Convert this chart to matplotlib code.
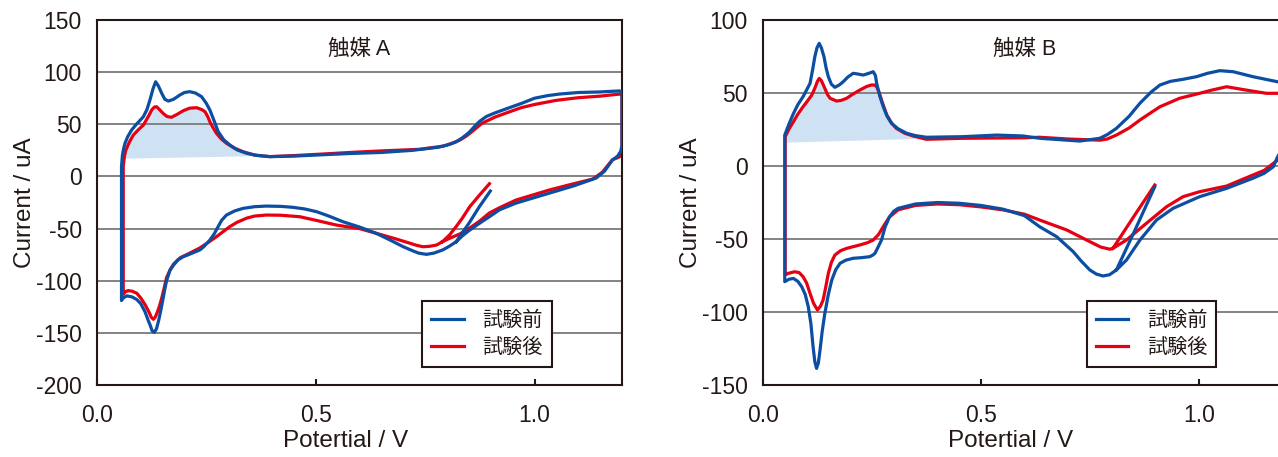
import numpy as np
import matplotlib.pyplot as plt

# ---- data: cyclic voltammograms (Potential V, Current uA) ----
# each curve = cathodic part (tail + sweep to 0.05 V), anodic part, return part

# 触媒 A, 試験前
a_pre_cat_v = [0.899, 0.874, 0.85, 0.835, 0.821, 0.805, 0.79, 0.77, 0.753, 0.735, 0.72, 0.70, 0.67,
               0.638, 0.6, 0.562, 0.53, 0.502, 0.475, 0.448, 0.42, 0.387, 0.36, 0.334, 0.315, 0.296,
               0.285, 0.277, 0.268, 0.258, 0.245, 0.235, 0.215, 0.197, 0.185, 0.175, 0.167, 0.159,
               0.155, 0.152, 0.146, 0.141, 0.136, 0.131, 0.126, 0.121, 0.117, 0.11, 0.1, 0.091, 0.08,
               0.068, 0.06, 0.056]
a_pre_cat_i = [-14, -29, -45, -54, -62.6, -67, -70.5, -73.5, -74.7, -73.5, -71, -67.4, -61,
               -54.5, -48.5, -43.4, -38, -33.8, -31.2, -29.6, -28.7, -28.4, -29, -30.6, -33, -37,
               -42, -48, -55, -61, -67, -70.5, -74, -77, -80, -85, -89.7, -100,
               -108, -115, -128, -138, -146, -149.5, -148, -142, -138, -130, -122, -118, -115.5,
               -114.5, -116.5, -119]
a_pre_an_v = [0.056, 0.058, 0.061, 0.064, 0.07, 0.079, 0.09, 0.1, 0.106, 0.114, 0.121, 0.128, 0.134,
              0.14, 0.148, 0.155, 0.163, 0.175, 0.189, 0.2, 0.212, 0.225, 0.239, 0.25, 0.258, 0.268,
              0.277, 0.29, 0.304, 0.32, 0.342, 0.365, 0.395, 0.45, 0.5, 0.578, 0.65, 0.72, 0.78, 0.8,
              0.82, 0.835, 0.85, 0.863, 0.875, 0.89, 0.91, 0.943, 0.97, 1.0, 1.03, 1.057, 1.1, 1.148,
              1.194, 1.2]
a_pre_an_i = [9, 20, 27, 31.8, 38, 44.5, 50, 54.5, 57.3, 64, 73.3, 84, 90.8,
              87, 79.7, 74, 72.3, 74, 78, 80.5, 81.3, 80, 76.5, 70, 63.7, 53,
              43, 35, 30, 25.5, 22.2, 20.2, 19, 19.5, 20.5, 22, 23, 25, 28, 30,
              33, 37, 42, 48, 53, 57.5, 61, 66, 70, 75, 77.5, 79, 80.5, 81,
              82, 81]
a_pre_ret_v = [1.2, 1.197, 1.19, 1.178, 1.16, 1.141, 1.09, 1.034, 0.958, 0.92, 0.897, 0.874, 0.85,
               0.835, 0.821]
a_pre_ret_i = [30, 24, 19.5, 15.7, 5, -1.5, -9, -16, -25.5, -32, -38.6, -45, -52,
               -57, -62.6]

# 触媒 A, 試験後
a_post_cat_v = [0.897, 0.874, 0.852, 0.835, 0.821, 0.806, 0.79, 0.776, 0.76, 0.745, 0.73, 0.715, 0.68,
                0.638, 0.6, 0.547, 0.5, 0.463, 0.42, 0.387, 0.36, 0.342, 0.32, 0.304, 0.288, 0.273,
                0.255, 0.235, 0.212, 0.19, 0.175, 0.167, 0.159, 0.153, 0.148, 0.143, 0.138, 0.133,
                0.129, 0.124, 0.12, 0.11, 0.1, 0.091, 0.08, 0.071, 0.065, 0.06]
a_post_cat_i = [-7, -18, -29, -40, -48, -56, -62.5, -65.8, -67, -67.4, -66, -64, -59.5,
                -54.5, -50, -46.6, -42, -38.6, -37.2, -37, -38, -40, -44, -48, -53, -57.8,
                -63, -68.6, -73.5, -78, -84, -89.7, -97, -108, -116.6, -124, -130, -135,
                -137, -135, -131, -123, -116.5, -112, -110, -109.5, -110.5, -113]
a_post_an_v = [0.06, 0.063, 0.066, 0.074, 0.083, 0.095, 0.106, 0.118, 0.125, 0.131, 0.136, 0.142, 0.151,
               0.16, 0.17, 0.183, 0.197, 0.212, 0.228, 0.24, 0.247, 0.253, 0.258, 0.265, 0.273,
               0.284, 0.296, 0.315, 0.334, 0.36, 0.395, 0.45, 0.516, 0.578, 0.65, 0.737, 0.79, 0.81,
               0.83, 0.845, 0.86, 0.88, 0.91, 0.943, 0.97, 1.0, 1.05, 1.1, 1.15, 1.195, 1.2]
a_post_an_i = [10, 20, 25.3, 33, 39.7, 45, 49.3, 58, 63.7, 66.5, 66.9, 64.5, 60.5,
               57.5, 56.7, 59.5, 63, 65.5, 65.9, 64, 62, 57.5, 52.5, 47, 41.4,
               36, 31.8, 27, 23.7, 20.5, 19, 20, 21.5, 23, 24.5, 26, 29, 31.5,
               35, 39, 44, 51, 57, 62, 66, 69, 73, 75.5, 77, 79, 78]
a_post_ret_v = [1.2, 1.197, 1.19, 1.178, 1.155, 1.133, 1.08, 1.034, 0.958, 0.92, 0.897, 0.874, 0.85,
                0.83, 0.806, 0.79]
a_post_ret_i = [22, 19.5, 18, 16, 4, -2.5, -8, -13, -22.6, -30, -35, -43, -50,
                -55, -59.3, -62.5]

# 触媒 B, 試験前
b_pre_cat_v = [0.899, 0.855, 0.811, 0.795, 0.78, 0.765, 0.75, 0.73, 0.712, 0.674, 0.635, 0.6, 0.55, 0.5,
               0.45, 0.4, 0.35, 0.31, 0.3, 0.29, 0.28, 0.272, 0.265, 0.257, 0.252, 0.245, 0.225, 0.207,
               0.19, 0.177, 0.167, 0.158, 0.15, 0.142, 0.136, 0.131, 0.127, 0.123, 0.119, 0.115, 0.11,
               0.104, 0.097, 0.089, 0.08, 0.07, 0.06, 0.05]
b_pre_cat_i = [-14.2, -43, -71.2, -74.5, -75.3, -74, -71.2, -65, -58.7, -48.4, -41.6, -34, -29.5, -27,
               -25.5, -25, -26, -29, -31, -35, -42, -50.7, -55, -59.8, -61, -62.1, -62.8, -63.2,
               -64.5, -66.6, -71, -78, -88, -100.9, -113, -126, -135, -138.6, -134, -123.8, -108,
               -96.4, -88, -82.7, -79, -77, -77.5, -79.2]
b_pre_an_v = [0.05, 0.06, 0.07, 0.08, 0.092, 0.1, 0.108, 0.114, 0.119, 0.124, 0.129, 0.134, 0.14, 0.145,
              0.15, 0.157, 0.165, 0.175, 0.184, 0.195, 0.207, 0.218, 0.23, 0.243, 0.253, 0.258, 0.261,
              0.268, 0.276, 0.285, 0.295, 0.31, 0.33, 0.35, 0.375, 0.459, 0.536, 0.596, 0.635, 0.727,
              0.773, 0.79, 0.811, 0.84, 0.865, 0.89, 0.911, 0.935, 0.964, 0.995, 1.02, 1.048, 1.079,
              1.124, 1.181, 1.2]
b_pre_an_i = [21.2, 29, 36, 42, 47.5, 52, 56.6, 66, 74.9, 81, 84, 81, 74.9, 67,
              61.2, 56, 53.9, 55.5, 57.7, 61, 63.5, 63, 62.3, 63.5, 64.6, 62, 56.6,
              48, 40.6, 34, 29.2, 25.5, 22.4, 20.8, 19.7, 20.1, 21.2, 20.6, 19, 17.1,
              19, 21.5, 25.8, 34, 43, 50.5, 55.5, 58, 59.4, 61.2, 63.5, 65.3, 64.6,
              61.2, 57.7, 56]
b_pre_ret_v = [1.2, 1.181, 1.171, 1.15, 1.124, 1.064, 1.002, 0.941, 0.903, 0.865, 0.834, 0.811]
b_pre_ret_i = [15, 6.4, -0.5, -5, -8.4, -15.3, -21, -29, -37, -50.7, -64.4, -71.2]

# 触媒 B, 試験後
b_post_cat_v = [0.899, 0.85, 0.803, 0.796, 0.775, 0.75, 0.697, 0.635, 0.6, 0.55, 0.5, 0.45, 0.4, 0.35,
                0.31, 0.29, 0.275, 0.265, 0.253, 0.24, 0.222, 0.192, 0.178, 0.165, 0.157, 0.15, 0.144,
                0.138, 0.132, 0.125, 0.116, 0.108, 0.1, 0.092, 0.083, 0.073, 0.058, 0.051]
b_post_cat_i = [-13, -35, -56.4, -57, -55.5, -51.8, -43.8, -37, -33, -30, -28, -26.5, -26, -27,
                -30, -35, -42, -47, -50.7, -52.5, -54.1, -56.4, -58, -61, -66, -73.5, -83,
                -91.8, -96, -98.6, -94, -87.2, -80, -75.8, -73, -72.4, -73.5, -74.6]
b_post_an_v = [0.051, 0.06, 0.07, 0.08, 0.092, 0.102, 0.112, 0.12, 0.125, 0.129, 0.134, 0.142, 0.148,
               0.154, 0.169, 0.18, 0.192, 0.205, 0.222, 0.238, 0.249, 0.256, 0.261, 0.267, 0.272,
               0.284, 0.295, 0.306, 0.325, 0.345, 0.375, 0.459, 0.596, 0.635, 0.7, 0.773, 0.79, 0.811,
               0.84, 0.865, 0.89, 0.911, 0.956, 1.002, 1.03, 1.064, 1.109, 1.155, 1.181, 1.2]
b_post_an_i = [20.1, 25.5, 30.4, 35.5, 40.6, 44.5, 48.6, 54, 58, 60, 58.5, 53.2, 49,
               46.4, 44.5, 45, 46.4, 49, 52, 54.5, 55.5, 55.5, 54.3, 50, 45.2,
               35, 29.5, 25.8, 22.5, 20.5, 18.3, 19, 19.3, 19.7, 18.5, 17.7, 18.5, 21.2,
               26, 31.5, 36.5, 40.6, 46.4, 49.8, 52, 54.3, 52, 49.8, 49.8, 50]
b_post_ret_v = [1.2, 1.181, 1.171, 1.15, 1.124, 1.064, 1.002, 0.964, 0.926, 0.88, 0.834, 0.803]
b_post_ret_i = [10, 4.1, 1.8, -3, -6.2, -13.7, -17.6, -21, -27.9, -39.2, -50.7, -56.4]

# shaded charge region: baseline (start, end) under the 試験後 anodic peak
a_base_v = [0.06, 0.37]
a_base_i = [17, 19.5]
b_base_v = [0.051, 0.35]
b_base_i = [16, 18.5]

titles = ['触媒 A', '触媒 B']
labels = ['試験前', '試験後']
a_yticks = [150, 100, 50, 0, -50, -100, -150, -200]
b_yticks = [100, 50, 0, -50, -100, -150]
xticks = [0.0, 0.5, 1.0]

BLUE = '#0b4ea2'
RED = '#e60012'
FILL = '#cfe2f4'
INK = '#231815'
LATIN = ['Liberation Sans', 'Noto Sans CJK JP']
CJK = ['Noto Sans CJK JP', 'DejaVu Sans']

plt.rcParams['font.family'] = LATIN
plt.rcParams['axes.unicode_minus'] = False

fig = plt.figure(figsize=(12.78, 4.57), dpi=100)
ax_a = fig.add_axes([0.0759, 0.1575, 0.4108, 0.7987])
ax_b = fig.add_axes([0.5970, 0.1575, 0.4092, 0.7987])


def curve(cat_v, cat_i, an_v, an_i, ret_v, ret_i):
    return np.concatenate([cat_v, an_v, ret_v]), np.concatenate([cat_i, an_i, ret_i])


panels = [
    (ax_a, titles[0], a_yticks,
     curve(a_pre_cat_v, a_pre_cat_i, a_pre_an_v, a_pre_an_i, a_pre_ret_v, a_pre_ret_i),
     curve(a_post_cat_v, a_post_cat_i, a_post_an_v, a_post_an_i, a_post_ret_v, a_post_ret_i),
     (a_post_an_v, a_post_an_i, a_base_v, a_base_i)),
    (ax_b, titles[1], b_yticks,
     curve(b_pre_cat_v, b_pre_cat_i, b_pre_an_v, b_pre_an_i, b_pre_ret_v, b_pre_ret_i),
     curve(b_post_cat_v, b_post_cat_i, b_post_an_v, b_post_an_i, b_post_ret_v, b_post_ret_i),
     (b_post_an_v, b_post_an_i, b_base_v, b_base_i)),
]

for ax, title, yticks, pre, post, fill in panels:
    # shaded area under the first anodic peak
    fv, fi, bv, bi = (np.asarray(x, dtype=float) for x in fill)
    m = fv <= bv[1]
    poly_v = np.concatenate([fv[m], [bv[1], bv[0]]])
    poly_i = np.concatenate([fi[m], [bi[1], bi[0]]])
    ax.fill(poly_v, poly_i, color=FILL, lw=0, zorder=0.3)

    ax.plot(pre[0], pre[1], color=BLUE, lw=2.3, label=labels[0], zorder=3,
            solid_joinstyle='round')
    ax.plot(post[0], post[1], color=RED, lw=2.3, label=labels[1], zorder=2,
            solid_joinstyle='round')

    ax.set_xlim(0, 1.2)
    ax.set_ylim(yticks[-1], yticks[0])
    ax.set_yticks(yticks)
    ax.set_xticks(xticks)
    ax.set_xticklabels([f'{t:.1f}' for t in xticks])
    ax.set_yticklabels([str(t) for t in yticks])

    ax.set_axisbelow(True)
    ax.grid(axis='y', color='#7a7a7a', lw=1.3)
    ax.grid(axis='x', visible=False)
    for s in ax.spines.values():
        s.set_color(INK)
        s.set_linewidth(1.5)

    ax.tick_params(axis='y', length=0, pad=11, labelsize=16.5, colors=INK)
    ax.tick_params(axis='x', direction='in', length=4, width=1.5, pad=14, labelsize=16.5,
                   colors=INK)

    ax.set_xlabel('Potertial / V', fontsize=17.5, color=INK)
    ax.xaxis.set_label_coords(0.474, -0.124)
    ax.set_ylabel('Current / uA', fontsize=17.5, color=INK)
    ax.yaxis.set_label_coords(-0.116, 0.5)

    ax.text(0.5, 0.92, title, transform=ax.transAxes, ha='center', va='center',
            fontsize=15.5, color=INK, family=LATIN)

    leg = ax.legend(loc='lower right', bbox_to_anchor=(0.867, 0.049), borderaxespad=0,
                    fancybox=False, edgecolor=INK, framealpha=1,
                    prop={'family': CJK, 'size': 14.5}, handlelength=1.6,
                    handletextpad=0.95, labelspacing=0.32, borderpad=0.45)
    leg.get_frame().set_linewidth(1.5)
    for t in leg.get_texts():
        t.set_color(INK)

fig.savefig('out.png', dpi=100)
